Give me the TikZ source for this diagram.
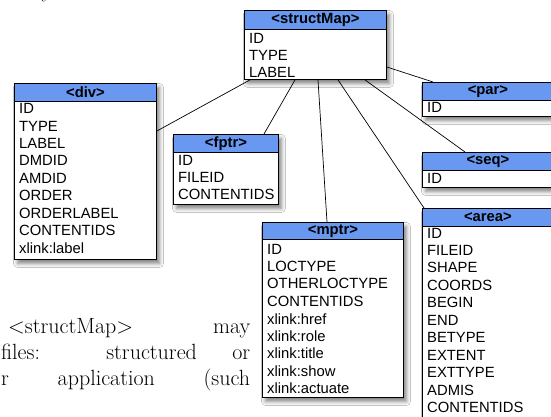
\documentclass[tikz,border=0pt]{standalone}
\usepackage{fontspec}
\setsansfont{Liberation Sans}
\usetikzlibrary{shadows.blur,calc}
\definecolor{hdrblue}{RGB}{104,152,240}
\tikzset{
 tbox/.style={draw=black, line width=0.9pt, fill=white, anchor=north west, inner sep=0pt,
   blur shadow={shadow xshift=3pt, shadow yshift=-4pt, shadow blur radius=4pt, shadow opacity=50}},
 thead/.style={draw=black, line width=0.9pt, fill=hdrblue, anchor=north west, inner sep=0pt,
   font=\sffamily\bfseries\fontsize{14.8}{16}\selectfont},
 trow/.style={anchor=west, inner sep=0pt, font=\sffamily\fontsize{14.8}{16}\selectfont},
 link/.style={draw=black, line width=0.7pt},
 prose/.style={anchor=base west, inner sep=0pt, font=\fontsize{22}{26}\selectfont},
}
% name, x, ytop, width, height, header height, title, first row y, rows
\newcommand{\umltabl}[9]{%
 \node[tbox, minimum width=#4pt, minimum height=#5pt] (#1) at (#2,#3) {};
 \node[thead, minimum width=#4pt, minimum height=#6pt] (#1h) at (#1.north west) {<#7>};
 \foreach \rr [count=\ii from 0] in {#9} {\node[trow] (#1r\ii) at ({#2+5},{#8+17.45*\ii}) {\rr};}
}
\begin{document}
\begin{tikzpicture}[x=1pt,y=-1pt]
\useasboundingbox (0,0) rectangle (551,417);
\clip (0,0) rectangle (551,417);
\fill[white] (0,0) rectangle (551,417);

\umltabl{sm}{244}{10}{142}{69}{19}{structMap}{38}{ID,TYPE,LABEL}
\umltabl{div}{14}{83}{142}{176}{18}{div}{108.5}{ID,TYPE,LABEL,DMDID,AMDID,ORDER,ORDERLABEL,CONTENTIDS,xlink:label}
\umltabl{fptr}{173}{134}{105}{70}{18}{fptr}{160}{ID,FILEID,CONTENTIDS}
\umltabl{par}{422}{82}{131}{34}{18}{par}{107.5}{ID}
\umltabl{seq}{422}{152}{131}{35}{18}{seq}{178}{ID}
\umltabl{mptr}{262}{222}{141}{175}{17}{mptr}{249}{ID,LOCTYPE,OTHERLOCTYPE,CONTENTIDS,xlink:href,xlink:role,xlink:title,xlink:show,xlink:actuate}
\umltabl{area}{422}{208}{131}{215}{18}{area}{233}{ID,FILEID,SHAPE,COORDS,BEGIN,END,BETYPE,EXTENT,EXTTYPE,ADMIS,CONTENTIDS}

\draw[link] ($(sm.south west)+(6,0)$) -- ($(div.north east)+(0,48)$);
\draw[link] ($(sm.south west)+(51,0)$) -- ($(fptr.north west)+(91,0)$);
\draw[link] ($(sm.south west)+(74,0)$) -- ($(mptr.north west)+(65,0)$);
\draw[link] ($(sm.south west)+(94,0)$) -- ($(area.north west)+(2,0)$);
\draw[link] ($(sm.south west)+(121,0)$) -- ($(seq.north west)+(43,0)$);
\draw[link] ($(sm.north east)+(0,57)$) -- ($(par.north west)+(11,0)$);

\node[anchor=base, inner sep=0pt, font=\fontsize{22}{26}\selectfont] (ytop) at (47,-2) {y};
\node[prose] (p1) at (8,333) {\makebox[242pt][s]{<structMap> may}};
\node[prose] (p2) at (1,359) {\makebox[249pt][s]{files: structured or}};
\node[prose] (p3) at (1,385) {\makebox[249pt][s]{r application (such}};
\end{tikzpicture}
\end{document}
